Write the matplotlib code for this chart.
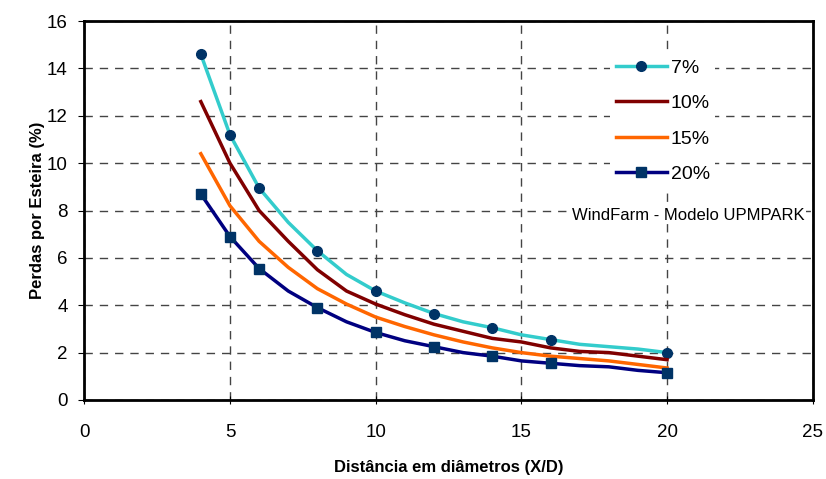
import matplotlib.pyplot as plt

plt.rcParams['font.family'] = ['Liberation Sans', 'DejaVu Sans']

# data
x_mark = [4, 5, 6, 8, 10, 12, 14, 16, 20]
x_line = [4, 5, 6, 7, 8, 9, 10, 11, 12, 13, 14, 15, 16, 17, 18, 19, 20]

p7 = [14.6, 11.2, 8.95, 7.5, 6.3, 5.3, 4.6, 4.1, 3.65, 3.3, 3.05, 2.75, 2.55, 2.35, 2.25, 2.15, 2.0]
p10 = [12.6, 10.0, 8.0, 6.7, 5.5, 4.6, 4.05, 3.6, 3.2, 2.9, 2.6, 2.45, 2.2, 2.05, 2.0, 1.85, 1.7]
p15 = [10.4, 8.2, 6.7, 5.6, 4.7, 4.05, 3.5, 3.1, 2.75, 2.45, 2.2, 2.0, 1.85, 1.75, 1.65, 1.5, 1.35]
p20 = [8.7, 6.9, 5.55, 4.6, 3.9, 3.3, 2.85, 2.5, 2.25, 2.0, 1.85, 1.65, 1.55, 1.45, 1.4, 1.25, 1.15]

labels = ['7%', '10%', '15%', '20%']

fig = plt.figure(figsize=(8.26, 4.79), dpi=100)
ax = fig.add_axes([0.102, 0.165, 0.882, 0.791])

mark_idx = [x_line.index(v) for v in x_mark]

ax.plot(x_line, p7, color='#33CCCC', lw=2.5, marker='o', markevery=mark_idx,
        ms=7, mfc='#003366', mec='#003366', label=labels[0])
ax.plot(x_line, p10, color='#800000', lw=2.5, label=labels[1])
ax.plot(x_line, p15, color='#FF6600', lw=2.5, label=labels[2])
ax.plot(x_line, p20, color='#000080', lw=2.5, marker='s', markevery=mark_idx,
        ms=7, mfc='#003366', mec='#003366', label=labels[3])

ax.set_xlim(0, 25)
ax.set_ylim(0, 16)
ax.set_xticks(range(0, 26, 5))
ax.set_yticks(range(0, 17, 2))
ax.grid(True, color='#444444', linestyle=(0, (6, 5)), lw=1)
ax.set_axisbelow(True)
for s in ax.spines.values():
    s.set_linewidth(2)
ax.tick_params(labelsize=13.5, width=0.8, length=4)
ax.tick_params(axis='y', pad=8)
ax.tick_params(axis='x', direction='inout', length=6, pad=14)

ax.set_xlabel('Distância em diâmetros (X/D)', fontsize=12, fontweight='bold', labelpad=14)
ax.set_ylabel('Perdas por Esteira (%)', fontsize=12, fontweight='bold', labelpad=1)

leg = ax.legend(loc='upper left', bbox_to_anchor=(0.722, 0.915), frameon=True,
                facecolor='white', edgecolor='none', framealpha=1, fancybox=False,
                borderpad=0.3, borderaxespad=0,
                fontsize=14, handlelength=2.6, handletextpad=0.2, labelspacing=0.92)
for h in leg.get_lines():
    h.set_linewidth(2.5)
ax.text(0.989, 0.488, 'WindFarm - Modelo UPMPARK', transform=ax.transAxes,
        ha='right', va='center', fontsize=12,
        bbox=dict(facecolor='white', edgecolor='none', pad=1))

fig.savefig('out.png', dpi=100)
